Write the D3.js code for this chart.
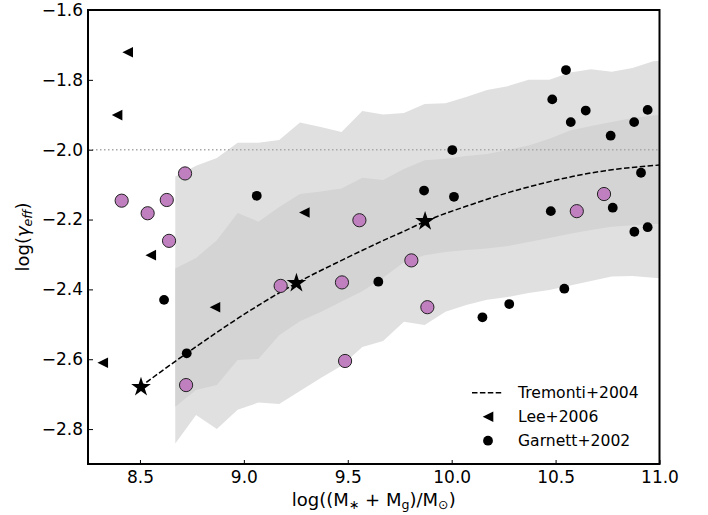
<!DOCTYPE html>
<html>
<head>
<meta charset="utf-8">
<script src="https://cdn.jsdelivr.net/npm/d3@7"></script>
<style>
  html, body { margin: 0; padding: 0; background: #fff; }
  svg { display: block; font-family: "DejaVu Sans", sans-serif; }
</style>
</head>
<body>
<svg id="chart" width="708" height="515"></svg>
<script>
// Binned mass grid for the model envelopes
const bandX = [8.67, 8.77, 8.87, 8.97, 9.07, 9.17, 9.27, 9.37, 9.47, 9.57, 9.67, 9.77, 9.87,
               9.97, 10.07, 10.17, 10.27, 10.37, 10.47, 10.57, 10.67, 10.77, 10.87, 10.97, 11.0];
// Outer envelope (light grey)
const outerHi = [-2.077, -2.046, -2.024, -1.980, -1.980, -1.972, -1.922, -1.935, -1.949, -1.889, -1.899, -1.895, -1.869,
                 -1.867, -1.849, -1.829, -1.818, -1.800, -1.800, -1.779, -1.770, -1.777, -1.766, -1.747, -1.745];
const outerLo = [-2.841, -2.760, -2.800, -2.745, -2.724, -2.728, -2.691, -2.654, -2.619, -2.565, -2.548, -2.493, -2.502,
                 -2.464, -2.445, -2.430, -2.422, -2.410, -2.402, -2.389, -2.376, -2.363, -2.362, -2.367, -2.368];
// Inner envelope (darker grey)
const innerHi = [-2.340, -2.310, -2.259, -2.181, -2.206, -2.164, -2.127, -2.120, -2.111, -2.080, -2.087, -2.055, -2.030,
                 -2.026, -2.018, -2.012, -2.001, -1.988, -1.969, -1.945, -1.932, -1.921, -1.909, -1.902, -1.901];
const innerLo = [-2.736, -2.688, -2.674, -2.602, -2.599, -2.531, -2.491, -2.465, -2.435, -2.405, -2.367, -2.322, -2.302,
                 -2.293, -2.287, -2.283, -2.276, -2.264, -2.253, -2.241, -2.230, -2.221, -2.216, -2.213, -2.213];

// Tremonti+2004 relation
const tremX = [8.50, 8.60, 8.72, 8.92, 9.08, 9.25, 9.48, 9.66, 9.78, 9.87, 10.10, 10.26, 10.42, 10.58, 10.74, 10.90, 11.00];
const tremY = [-2.680, -2.636, -2.585, -2.503, -2.442, -2.383, -2.314, -2.263, -2.231, -2.206, -2.156, -2.125, -2.099,
               -2.077, -2.060, -2.049, -2.044];
const starX = [8.505, 9.253, 9.872];
const starY = [-2.680, -2.382, -2.205];

// Lee+2006
const leeX = [8.441, 8.390, 8.552, 8.321, 8.861, 9.291];
const leeY = [-1.721, -1.901, -2.302, -2.610, -2.451, -2.180];

// Garnett+2002
const garnettX = [8.616, 8.725, 9.062, 9.647, 9.867, 10.003, 10.011, 10.148, 10.277, 10.477, 10.484, 10.542, 10.550,
                  10.573, 10.645, 10.765, 10.775, 10.878, 10.879, 10.911, 10.943, 10.943];
const garnettY = [-2.430, -2.583, -2.132, -2.378, -2.117, -2.001, -2.135, -2.480, -2.442, -2.176, -1.856, -2.398, -1.772,
                  -1.921, -1.888, -1.960, -2.166, -1.921, -2.235, -2.066, -1.886, -2.222];

// Galaxy sample
const sampleX = [8.412, 8.537, 8.629, 8.640, 8.717, 8.722, 9.177, 9.472, 9.487, 9.556, 9.806, 9.883, 10.602, 10.733];
const sampleY = [-2.146, -2.182, -2.144, -2.261, -2.068, -2.674, -2.390, -2.380, -2.605, -2.202, -2.317, -2.451, -2.176, -2.127];

const xTicks = [8.5, 9.0, 9.5, 10.0, 10.5, 11.0];
const yTicks = [-2.8, -2.6, -2.4, -2.2, -2.0, -1.8, -1.6];
const yieldLine = -2.0;
const legendLabels = ["Tremonti+2004", "Lee+2006", "Garnett+2002"];

const svg = d3.select("#chart");
const mLeft = 88, mRight = 659.5, mTop = 10, mBottom = 464;
const x = d3.scaleLinear().domain([8.25, 11.0]).range([mLeft, mRight]);
const y = d3.scaleLinear().domain([-2.9, -1.6]).range([mBottom, mTop]);

svg.append("defs").append("clipPath").attr("id", "plotclip")
  .append("rect").attr("x", mLeft).attr("y", mTop).attr("width", mRight - mLeft).attr("height", mBottom - mTop);

const plot = svg.append("g").attr("clip-path", "url(#plotclip)");

const band = (hi, lo) => d3.area()
  .x((d, i) => x(bandX[i]))
  .y0((d, i) => y(lo[i]))
  .y1((d, i) => y(hi[i]))(bandX);

plot.append("path").attr("d", band(outerHi, outerLo)).attr("fill", "#e0e0e0");
plot.append("path").attr("d", band(innerHi, innerLo)).attr("fill", "#d4d4d4");

// reference yield level
plot.append("line")
  .attr("x1", mLeft).attr("x2", mRight)
  .attr("y1", y(yieldLine)).attr("y2", y(yieldLine))
  .attr("stroke", "#a8a8a8").attr("stroke-width", 1.5).attr("stroke-dasharray", "1.5,2.5");

// Tremonti curve
plot.append("path")
  .attr("d", d3.line().x((d, i) => x(tremX[i])).y((d, i) => y(tremY[i])).curve(d3.curveMonotoneX)(tremX))
  .attr("fill", "none").attr("stroke", "#000").attr("stroke-width", 1.5).attr("stroke-dasharray", "5.5,2.4");

const triLeft = (cx, cy, r) => {
  const p = d3.path();
  p.moveTo(cx - r, cy); p.lineTo(cx + r, cy - r); p.lineTo(cx + r, cy + r); p.closePath();
  return p.toString();
};

// Lee+2006 triangles
plot.selectAll(".lee").data(leeX).join("path")
  .attr("d", (d, i) => triLeft(x(d), y(leeY[i]), 5.3))
  .attr("fill", "#000");

// Garnett+2002 dots
plot.selectAll(".garnett").data(garnettX).join("circle")
  .attr("cx", d => x(d)).attr("cy", (d, i) => y(garnettY[i])).attr("r", 4.9)
  .attr("fill", "#000");

// Sample points
plot.selectAll(".sample").data(sampleX).join("circle")
  .attr("cx", d => x(d)).attr("cy", (d, i) => y(sampleY[i])).attr("r", 6.6)
  .attr("fill", "#c080c0").attr("stroke", "#222").attr("stroke-width", 1);

// Tremonti stars
plot.selectAll(".star").data(starX).join("path")
  .attr("transform", (d, i) => `translate(${x(d)},${y(starY[i])})`)
  .attr("d", d3.symbol(d3.symbolStar, 120))
  .attr("fill", "#000");

// Axes
const fmt = d3.format(".1f");
const xAxis = svg.append("g").attr("transform", `translate(0,${mBottom})`)
  .call(d3.axisBottom(x).tickValues(xTicks).tickFormat(fmt).tickSizeInner(-4).tickSizeOuter(0).tickPadding(7));
const yAxis = svg.append("g").attr("transform", `translate(${mLeft},0)`)
  .call(d3.axisLeft(y).tickValues(yTicks).tickFormat(fmt).tickSizeInner(-5).tickSizeOuter(0).tickPadding(5));
[xAxis, yAxis].forEach(a => {
  a.select(".domain").remove();
  a.selectAll(".tick line").attr("stroke", "#000").attr("stroke-width", 1);
  a.selectAll(".tick text").attr("font-family", "DejaVu Sans").attr("font-size", 17).attr("fill", "#000");
});

// Frame
svg.append("rect")
  .attr("x", mLeft).attr("y", mTop).attr("width", mRight - mLeft).attr("height", mBottom - mTop)
  .attr("fill", "none").attr("stroke", "#000").attr("stroke-width", 2);

// Axis labels
const xl = svg.append("text").attr("x", (mLeft + mRight) / 2).attr("y", 506)
  .attr("text-anchor", "middle").attr("font-size", 18).attr("fill", "#000");
xl.append("tspan").text("log((M");
xl.append("tspan").attr("font-size", 12.6).attr("dy", 3).text("\u2217");
xl.append("tspan").attr("dy", -3).text(" + M");
xl.append("tspan").attr("font-size", 12.6).attr("dy", 3).text("g");
xl.append("tspan").attr("dy", -3).text(")/M");
xl.append("tspan").attr("font-size", 12.6).attr("dy", 3).text("\u2299");
xl.append("tspan").attr("dy", -3).text(")");

const yl = svg.append("text")
  .attr("transform", `translate(29,${(mTop + mBottom) / 2}) rotate(-90)`)
  .attr("text-anchor", "middle").attr("font-size", 18).attr("fill", "#000");
yl.append("tspan").text("log(");
yl.append("tspan").attr("font-style", "italic").text("\u03b3");
yl.append("tspan").attr("font-style", "italic").attr("font-size", 12.6).attr("dy", 3).text("eff");
yl.append("tspan").attr("dy", -3).text(")");

// Legend
const lg = svg.append("g");
const rows = [392.7, 416.7, 440.7];
lg.append("line").attr("x1", 472).attr("x2", 503).attr("y1", rows[0]).attr("y2", rows[0])
  .attr("stroke", "#000").attr("stroke-width", 1.5).attr("stroke-dasharray", "5.5,2.4");
lg.append("path").attr("d", triLeft(488, rows[1], 5.3)).attr("fill", "#000");
lg.append("circle").attr("cx", 488).attr("cy", rows[2]).attr("r", 4.9).attr("fill", "#000");
lg.selectAll(".lt").data(legendLabels).join("text")
  .attr("x", 518).attr("y", (d, i) => rows[i] + 5.6)
  .attr("font-size", 15.6).attr("fill", "#000").text(d => d);
</script>
</body>
</html>
